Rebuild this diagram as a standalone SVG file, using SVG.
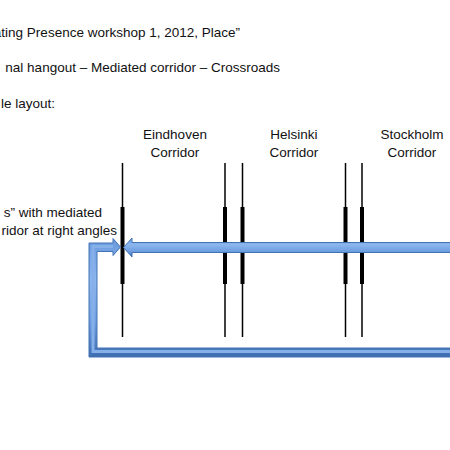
<svg xmlns="http://www.w3.org/2000/svg" width="450" height="450" viewBox="0 0 450 450">
  <defs>
    <linearGradient id="bandV" x1="0" y1="0" x2="0" y2="1">
      <stop offset="0" stop-color="#6a9ade"/>
      <stop offset="0.35" stop-color="#8cb6ee"/>
      <stop offset="0.7" stop-color="#6f9fe0"/>
      <stop offset="1" stop-color="#3e6cb0"/>
    </linearGradient>
    <style>
      text { font-family: "Liberation Sans", Arial, sans-serif; font-size: 13.5px; fill: #111; }
      .c { text-anchor: middle; }
      .e { text-anchor: end; }
      .thin { stroke: #000; stroke-width: 1.5; fill: none; }
      .thick { stroke: #000; stroke-width: 4; fill: none; }
      .band { fill: url(#bandV); stroke: #4272b4; stroke-width: 1; }
      .hl { fill: none; stroke: #86b0ea; stroke-width: 3; }
    </style>
  </defs>
  <rect width="450" height="450" fill="#ffffff"/>

  <g id="title">
    <text class="e" x="240" y="37">ating Presence workshop 1, 2012, Place”</text>
    <text class="e" x="280" y="72">nal hangout – Mediated corridor – Crossroads</text>
    <text class="e" x="55" y="108">le layout:</text>
  </g>

  <g id="side-note">
    <text class="e" x="102" y="217">s” with mediated</text>
    <text class="e" x="117" y="235">ridor at right angles</text>
  </g>

  <g id="eindhoven">
    <text class="c" x="175" y="139">Eindhoven</text>
    <text class="c" x="175" y="157">Corridor</text>
    <line class="thin" x1="122.5" y1="163" x2="122.5" y2="337"/>
    <line class="thick" x1="122.5" y1="207" x2="122.5" y2="284"/>
  </g>

  <g id="helsinki">
    <text class="c" x="294" y="139">Helsinki</text>
    <text class="c" x="294" y="157">Corridor</text>
    <line class="thin" x1="225" y1="163" x2="225" y2="337"/>
    <line class="thick" x1="225" y1="207" x2="225" y2="284"/>
    <line class="thin" x1="242.5" y1="163" x2="242.5" y2="337"/>
    <line class="thick" x1="242.5" y1="207" x2="242.5" y2="284"/>
  </g>

  <g id="stockholm">
    <text class="c" x="412" y="139">Stockholm</text>
    <text class="c" x="412" y="157">Corridor</text>
    <line class="thin" x1="345.5" y1="163" x2="345.5" y2="337"/>
    <line class="thick" x1="345.5" y1="207" x2="345.5" y2="284"/>
    <line class="thin" x1="362" y1="163" x2="362" y2="337"/>
    <line class="thick" x1="362" y1="207" x2="362" y2="284"/>
  </g>

  <g id="connectors">
    <polygon class="band" points="455,242.5 132,242.5 132,238 123.5,247.5 132,257 132,252.5 455,252.5"/>
    <polygon class="band" points="455,348 97,348 97,251.5 113,251.5 113,255.5 120.5,247 113,238.5 113,243 89,243 89,357 455,357"/>
    <polyline class="hl" points="455,351.5 93,351.5 93,246.5 113,246.5"/>
  </g>
</svg>
